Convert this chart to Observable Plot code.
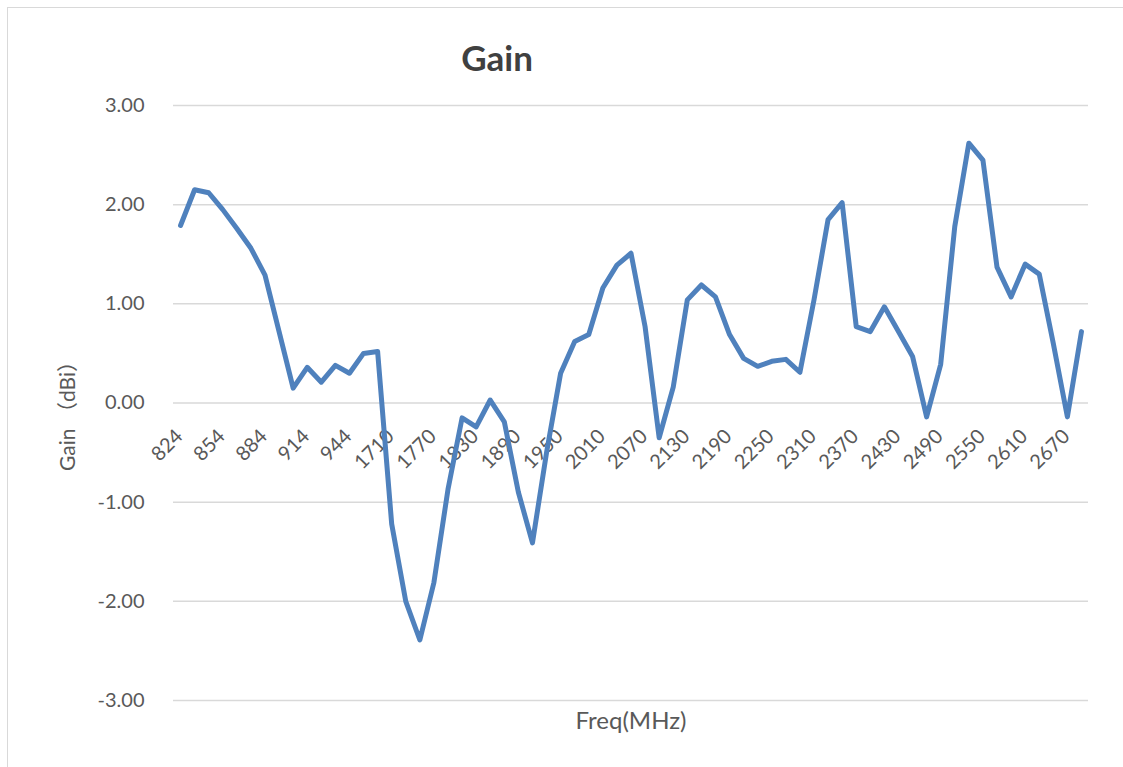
<!DOCTYPE html>
<html>
<head>
<meta charset="utf-8">
<script src="https://cdn.jsdelivr.net/npm/d3@7"></script>
<script src="https://cdn.jsdelivr.net/npm/@observablehq/plot@0.6"></script>
<style>
  html, body { margin: 0; padding: 0; background: #fff; }
  #wrap { position: relative; width: 1123px; height: 767px; overflow: hidden; font-family: Lato, "Open Sans", sans-serif; }
  #border { position: absolute; left: 7px; top: 7px; width: 1140px; height: 790px; border: 1.5px solid #d9d9d9; box-sizing: border-box; }
  #title { position: absolute; left: 497px; top: 57px; transform: translate(-50%, -50%); font-size: 35px; font-weight: bold; color: #404040; white-space: nowrap; }
  #chart { position: absolute; left: 0; top: 0; }
</style>
</head>
<body>
<div id="wrap">
  <div id="border"></div>
  <div id="chart"></div>
  <div id="title">Gain</div>
</div>
<script>
const freqs = [824, 834, 844, 854, 864, 874, 884, 894, 904, 914, 924, 934, 944, 954, 960,
  1710, 1730, 1750, 1770, 1790, 1810, 1830, 1850, 1870, 1890, 1910, 1930, 1950, 1970, 1990,
  2010, 2030, 2050, 2070, 2090, 2110, 2130, 2150, 2170, 2190, 2210, 2230, 2250, 2270, 2290,
  2310, 2330, 2350, 2370, 2390, 2410, 2430, 2450, 2470, 2490, 2510, 2530, 2550, 2570, 2590,
  2610, 2630, 2650, 2670, 2690];
const gains = [1.79, 2.15, 2.12, 1.95, 1.76, 1.56, 1.29, 0.72, 0.15, 0.36, 0.21, 0.38, 0.30, 0.50, 0.52,
  -1.22, -2.00, -2.39, -1.81, -0.87, -0.15, -0.24, 0.03, -0.19, -0.90, -1.41, -0.50, 0.30, 0.62, 0.69,
  1.16, 1.39, 1.51, 0.77, -0.35, 0.16, 1.04, 1.19, 1.07, 0.69, 0.45, 0.37, 0.42, 0.44, 0.31,
  1.04, 1.85, 2.02, 0.77, 0.72, 0.97, 0.72, 0.47, -0.14, 0.39, 1.78, 2.62, 2.45, 1.37, 1.07,
  1.40, 1.30, 0.60, -0.14, 0.72];
const xTickLabels = [824, 854, 884, 914, 944, 1710, 1770, 1830, 1890, 1950, 2010, 2070, 2130,
  2190, 2250, 2310, 2370, 2430, 2490, 2550, 2610, 2670];
const yTicks = [-3, -2, -1, 0, 1, 2, 3];
const yTitle = "Gain （dBi）";
const xTitle = "Freq(MHz)";

const data = freqs.map((f, i) => ({freq: f, gain: gains[i]}));
const textColor = "#595959";
const font = "Lato, 'Noto Sans CJK SC', 'Open Sans', sans-serif";

const chart = Plot.plot({
  width: 1123,
  height: 767,
  marginLeft: 173,
  marginRight: 35,
  marginTop: 105,
  marginBottom: 67,
  style: {fontFamily: font, background: "transparent", overflow: "visible"},
  x: {type: "point", domain: freqs, padding: 0.5, round: false, axis: null},
  y: {domain: [-3, 3], axis: null},
  marks: [
    Plot.ruleY(yTicks, {stroke: "#d9d9d9", strokeWidth: 1.5}),
    Plot.axisY({ticks: yTicks, tickFormat: d => d.toFixed(2), tickSize: 0, tickPadding: 29,
      fontSize: 20, color: textColor, label: null}),
    Plot.text(xTickLabels, {x: d => d, y: () => 0, text: d => String(d), rotate: -45,
      textAnchor: "end", dx: -1, dy: 30, fontSize: 20, fill: textColor}),
    Plot.line(data, {x: "freq", y: "gain", stroke: "#4F81BD", strokeWidth: 5,
      strokeLinejoin: "round", strokeLinecap: "round"}),
    Plot.text([yTitle], {frameAnchor: "left", textAnchor: "middle", lineAnchor: "middle",
      dx: -105, dy: 8, rotate: -90, text: d => d, fontSize: 21, fill: textColor}),
    Plot.text([xTitle], {frameAnchor: "bottom", textAnchor: "middle", dy: 28, text: d => d,
      fontSize: 24, fill: textColor})
  ]
});
document.getElementById("chart").appendChild(chart);
</script>
</body>
</html>
